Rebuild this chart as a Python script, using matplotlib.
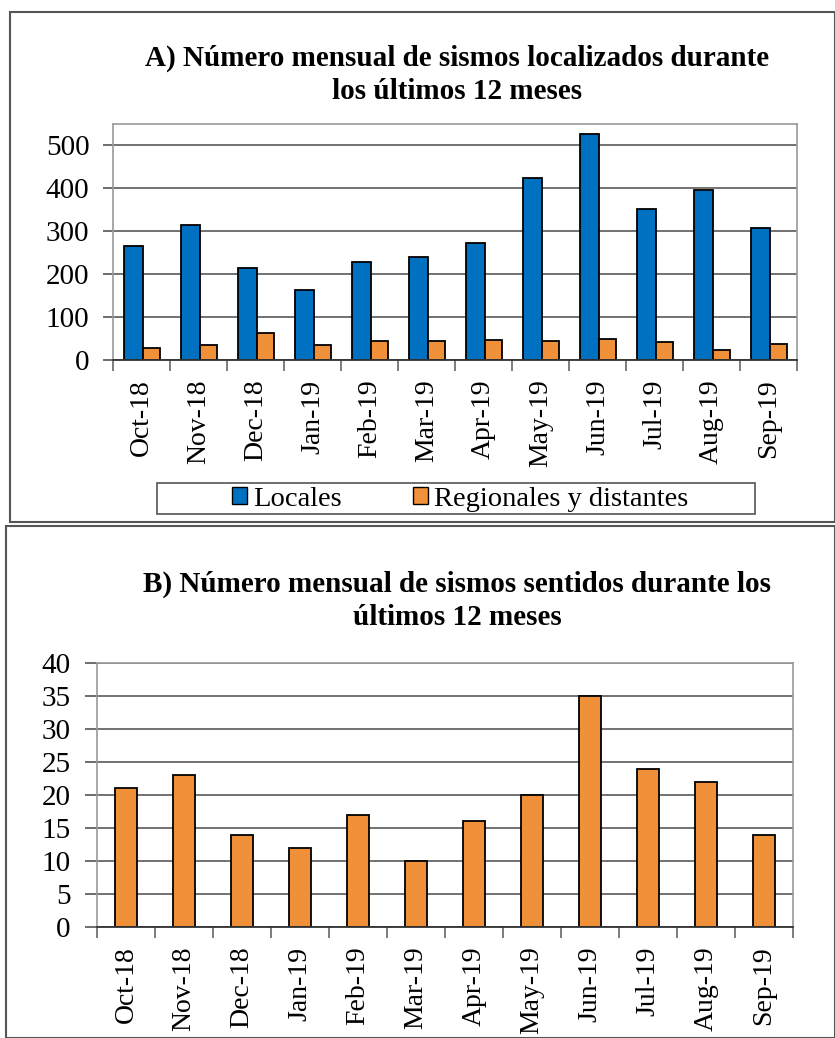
import matplotlib.pyplot as plt
from matplotlib.patches import Rectangle, Patch

plt.rcParams['font.family'] = ['Liberation Serif', 'DejaVu Serif']

meses = ['Oct-18', 'Nov-18', 'Dec-18', 'Jan-19', 'Feb-19', 'Mar-19',
         'Apr-19', 'May-19', 'Jun-19', 'Jul-19', 'Aug-19', 'Sep-19']
locales = [265, 315, 214, 162, 228, 239, 273, 425, 527, 351, 396, 307]
regionales = [29, 34, 62, 34, 44, 44, 46, 44, 49, 41, 23, 38]
sentidos = [21, 23, 14, 12, 17, 10, 16, 20, 35, 24, 22, 14]

AZUL = '#0070C0'
NARANJA = '#F0913A'
W, H = 835, 1038


def px_rect(l, t, r, b):
    # pixel box -> figure fraction
    return [l / W, 1 - b / H, (r - l) / W, (b - t) / H]


def style_axes(ax, ymax, yticks, ytick_len):
    ax.set_ylim(0, ymax)
    ax.set_xlim(-0.5, len(meses) - 0.5)
    ax.set_yticks(yticks)
    ax.yaxis.grid(True, color='#5a5a5a', linewidth=1.2)
    ax.set_axisbelow(True)
    for s in ['top', 'right', 'left']:
        ax.spines[s].set_color('#999999')
        ax.spines[s].set_linewidth(1.2)
    ax.spines['bottom'].set_color('#333333')
    ax.spines['bottom'].set_linewidth(1.3)
    ax.tick_params(axis='y', labelsize=21, length=ytick_len, width=1.2,
                   color='#555555', pad=10)
    # ticks sit on the category boundaries
    ax.set_xticks([i - 0.5 for i in range(len(meses) + 1)])
    ax.set_xticklabels([])
    ax.set_xticks(range(len(meses)), minor=True)
    ax.set_xticklabels(meses, minor=True, rotation=90, fontsize=20)
    ax.tick_params(axis='x', which='major', length=8, width=1.2, color='#666666')
    ax.tick_params(axis='x', which='minor', length=0, pad=14)


fig = plt.figure(figsize=(W / 100, H / 100), dpi=100)

# panel frames
fig.patches.append(Rectangle((10 / W, 1 - 522 / H), 1 - 10 / W, 510 / H,
                             transform=fig.transFigure, fill=False,
                             edgecolor='#555555', linewidth=1.5))
fig.patches.append(Rectangle((6 / W, 0), 1 - 6 / W, 1 - 526 / H,
                             transform=fig.transFigure, fill=False,
                             edgecolor='#555555', linewidth=1.5))

# A) localizados
x = list(range(len(meses)))
ax1 = fig.add_axes(px_rect(113, 124, 797, 360))
ax1.bar([i - 0.14 for i in x], locales, width=0.32, color=AZUL,
        edgecolor='black', linewidth=1.3)
ax1.bar([i + 0.18 for i in x], regionales, width=0.30, color=NARANJA,
        edgecolor='black', linewidth=1.3)
style_axes(ax1, 550, range(0, 501, 100), 7)
fig.text(457 / W, 1 - 75 / H,
         'A) Número mensual de sismos localizados durante\nlos últimos 12 meses',
         ha='center', va='center', fontsize=21, fontweight='bold', linespacing=1.3)

fig.patches.append(Rectangle((157 / W, 1 - 514 / H), 598 / W, 31 / H,
                             transform=fig.transFigure, fill=False,
                             edgecolor='#555555', linewidth=1.2))
handles = [Patch(facecolor=AZUL, edgecolor='black', label='Locales'),
           Patch(facecolor=NARANJA, edgecolor='black', label='Regionales y distantes')]
fig.legend(handles=handles, loc='center', bbox_to_anchor=(460 / W, 1 - 499 / H),
           ncol=2, frameon=False, fontsize=20.5, handlelength=0.55, handleheight=0.55,
           handletextpad=0.2, columnspacing=2.5, borderpad=0, borderaxespad=0)

# B) sentidos
ax2 = fig.add_axes(px_rect(97, 663, 793, 927))
ax2.bar(x, sentidos, width=0.38, color=NARANJA,
        edgecolor='black', linewidth=1.3)
style_axes(ax2, 40, range(0, 41, 5), 9)
fig.text(457 / W, 1 - 601 / H,
         'B) Número mensual de sismos sentidos durante los\núltimos 12 meses',
         ha='center', va='center', fontsize=21, fontweight='bold', linespacing=1.3)

fig.savefig('out.png', dpi=100)
